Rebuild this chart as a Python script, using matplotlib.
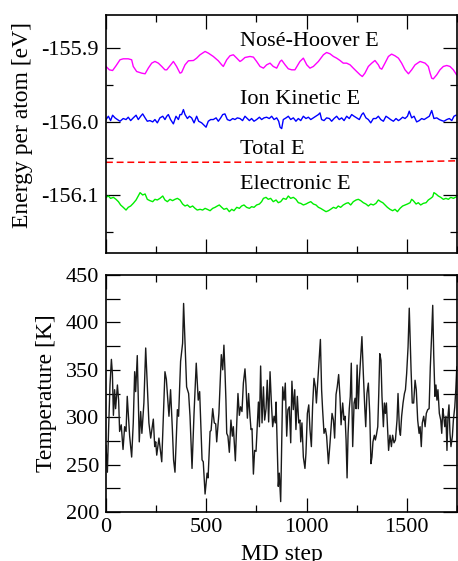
import matplotlib
matplotlib.use("Agg")
import matplotlib.pyplot as plt
from matplotlib.ticker import MultipleLocator

plt.rcParams['font.family'] = ['Liberation Serif', 'DejaVu Serif']
plt.rcParams['axes.unicode_minus'] = False

# Energias por atomo [eV]
nh_steps = [0, 17, 33, 50, 70, 86, 111, 128, 136, 153, 178, 195, 211, 228, 244, 261, 278, 294,
            303, 319, 336, 352, 369, 377, 394, 411, 436, 452, 469, 494, 510, 535, 560, 577,
            585, 602, 618, 635, 652, 668, 676, 693, 718, 735, 751, 768, 785, 801, 818, 834,
            851, 868, 876, 893, 909, 926, 942, 967, 984, 1001, 1017, 1034, 1059, 1084, 1100,
            1117, 1134, 1150, 1167, 1183, 1200, 1217, 1233, 1250, 1267, 1278, 1291, 1308,
            1325, 1341, 1358, 1366, 1375, 1391, 1408, 1424, 1441, 1458, 1474, 1491, 1508,
            1524, 1541, 1566, 1591, 1607, 1616, 1624, 1632, 1649, 1665, 1682, 1699, 1715,
            1732, 1748]
nh_energy = [-155.9250, -155.9296, -155.9305, -155.9241, -155.9159, -155.9146, -155.9146,
             -155.9159, -155.9250, -155.9319, -155.9341, -155.9350, -155.9273, -155.9205,
             -155.9182, -155.9205, -155.9250, -155.9296, -155.9296, -155.9241, -155.9182,
             -155.9250, -155.9341, -155.9332, -155.9228, -155.9173, -155.9169, -155.9137,
             -155.9091, -155.9046, -155.9068, -155.9114, -155.9173, -155.9228, -155.9250,
             -155.9159, -155.9105, -155.9091, -155.9137, -155.9182, -155.9169, -155.9128,
             -155.9114, -155.9123, -155.9182, -155.9250, -155.9273, -155.9228, -155.9205,
             -155.9250, -155.9273, -155.9182, -155.9164, -155.9228, -155.9282, -155.9296,
             -155.9296, -155.9182, -155.9137, -155.9228, -155.9273, -155.9250, -155.9182,
             -155.9091, -155.9060, -155.9078, -155.9114, -155.9137, -155.9169, -155.9205,
             -155.9205, -155.9228, -155.9273, -155.9319, -155.9364, -155.9387, -155.9341,
             -155.9250, -155.9205, -155.9169, -155.9228, -155.9273, -155.9287, -155.9205,
             -155.9114, -155.9082, -155.9105, -155.9137, -155.9205, -155.9296, -155.9350,
             -155.9296, -155.9228, -155.9182, -155.9205, -155.9250, -155.9341, -155.9410,
             -155.9419, -155.9364, -155.9296, -155.9250, -155.9237, -155.9250, -155.9296,
             -155.9364]

ion_steps = [0, 12, 23, 33, 45, 57, 70, 86, 100, 111, 123, 136, 150, 161, 173, 183, 195, 206,
             219, 233, 244, 256, 269, 283, 294, 303, 311, 322, 336, 349, 361, 369, 377, 386,
             394, 406, 416, 427, 439, 452, 462, 477, 489, 499, 510, 522, 535, 549, 560, 572,
             582, 593, 605, 618, 632, 643, 655, 668, 681, 693, 701, 715, 726, 738, 751, 765,
             776, 788, 801, 814, 826, 838, 851, 861, 868, 876, 884, 898, 909, 921, 934, 947,
             959, 971, 984, 997, 1009, 1021, 1034, 1047, 1059, 1067, 1075, 1087, 1100, 1114,
             1125, 1137, 1150, 1163, 1175, 1187, 1200, 1213, 1225, 1237, 1250, 1263, 1275,
             1283, 1296, 1308, 1320, 1333, 1346, 1358, 1370, 1383, 1396, 1408, 1419, 1433,
             1446, 1458, 1466, 1479, 1491, 1503, 1512, 1524, 1536, 1549, 1562, 1574, 1586,
             1599, 1612, 1624, 1635, 1649, 1662, 1674, 1685, 1699, 1712, 1724, 1735, 1745]
ion_energy = [-155.9973, -155.9928, -155.9987, -155.9914, -155.9950, -155.9973, -155.9996,
              -155.9959, -155.9973, -155.9941, -155.9987, -155.9950, -155.9914, -155.9973,
              -155.9928, -155.9896, -155.9950, -155.9996, -155.9987, -156.0005, -155.9973,
              -156.0018, -155.9950, -155.9928, -155.9973, -155.9928, -155.9905, -155.9973,
              -156.0032, -155.9928, -155.9973, -155.9905, -155.9905, -155.9837, -155.9905,
              -155.9959, -155.9928, -155.9950, -156.0018, -155.9928, -155.9996, -156.0018,
              -156.0050, -156.0077, -155.9996, -155.9973, -155.9973, -155.9950, -155.9996,
              -155.9950, -155.9905, -155.9896, -155.9973, -155.9987, -155.9959, -155.9973,
              -155.9950, -155.9959, -155.9987, -155.9928, -155.9950, -155.9987, -155.9959,
              -155.9996, -155.9973, -155.9941, -155.9973, -155.9950, -155.9941, -155.9959,
              -155.9928, -155.9973, -155.9950, -155.9996, -156.0077, -156.0096, -155.9973,
              -155.9950, -155.9928, -155.9973, -155.9950, -155.9996, -155.9959, -155.9987,
              -155.9928, -155.9959, -155.9941, -155.9973, -155.9950, -155.9928, -155.9905,
              -155.9882, -155.9973, -155.9987, -155.9950, -155.9959, -155.9996, -155.9959,
              -155.9928, -155.9973, -155.9950, -155.9987, -155.9928, -155.9959, -155.9905,
              -155.9928, -155.9950, -155.9973, -155.9905, -155.9882, -155.9950, -155.9973,
              -156.0018, -155.9959, -155.9959, -155.9928, -155.9973, -155.9996, -155.9928,
              -155.9950, -155.9973, -155.9996, -155.9959, -155.9987, -155.9973, -155.9941,
              -155.9959, -155.9928, -155.9859, -155.9950, -155.9928, -156.0005, -155.9987,
              -155.9959, -155.9973, -155.9950, -155.9928, -155.9850, -155.9959, -155.9950,
              -155.9973, -155.9987, -155.9996, -155.9973, -155.9959, -155.9987, -155.9928,
              -155.9914]

total_steps = [0, 1400, 1750]
total_energy = [-156.0555, -156.0552, -156.0535]

elec_steps = [0, 12, 23, 37, 50, 62, 73, 86, 100, 111, 123, 136, 150, 161, 170, 183, 195, 206,
              219, 233, 244, 256, 269, 283, 294, 306, 319, 332, 344, 356, 369, 382, 394, 406,
              419, 432, 444, 455, 469, 482, 494, 505, 519, 532, 544, 555, 565, 577, 588, 602,
              615, 627, 638, 652, 665, 676, 688, 701, 715, 726, 738, 751, 765, 776, 785, 798,
              809, 821, 834, 848, 859, 871, 884, 898, 909, 921, 934, 947, 959, 971, 984, 997,
              1009, 1021, 1034, 1047, 1059, 1070, 1084, 1097, 1109, 1120, 1134, 1147, 1158,
              1170, 1183, 1197, 1208, 1220, 1233, 1247, 1258, 1270, 1283, 1296, 1308, 1320,
              1333, 1346, 1358, 1370, 1380, 1391, 1403, 1416, 1429, 1441, 1453, 1466, 1479,
              1491, 1503, 1516, 1524, 1532, 1546, 1557, 1569, 1582, 1596, 1607, 1619, 1629,
              1635, 1645, 1657, 1669, 1682, 1695, 1707, 1719, 1732, 1748]
elec_energy = [-156.1032, -156.1014, -156.1046, -156.1032, -156.1059, -156.1091, -156.1136,
               -156.1168, -156.1205, -156.1168, -156.1150, -156.1114, -156.1068, -156.1014,
               -156.0968, -156.1000, -156.0986, -156.1059, -156.1077, -156.1091, -156.1059,
               -156.1068, -156.1046, -156.1014, -156.1068, -156.1091, -156.1059, -156.1077,
               -156.1059, -156.1046, -156.1068, -156.1123, -156.1150, -156.1136, -156.1168,
               -156.1150, -156.1182, -156.1205, -156.1195, -156.1205, -156.1182, -156.1195,
               -156.1214, -156.1182, -156.1168, -156.1150, -156.1136, -156.1168, -156.1195,
               -156.1182, -156.1227, -156.1195, -156.1214, -156.1168, -156.1182, -156.1150,
               -156.1136, -156.1168, -156.1182, -156.1159, -156.1168, -156.1136, -156.1123,
               -156.1091, -156.1046, -156.1032, -156.1059, -156.1046, -156.1091, -156.1068,
               -156.1105, -156.1091, -156.1046, -156.1059, -156.1014, -156.1046, -156.1032,
               -156.1059, -156.1105, -156.1114, -156.1136, -156.1123, -156.1105, -156.1091,
               -156.1123, -156.1136, -156.1168, -156.1182, -156.1205, -156.1227, -156.1214,
               -156.1195, -156.1168, -156.1182, -156.1150, -156.1168, -156.1136, -156.1114,
               -156.1105, -156.1136, -156.1091, -156.1068, -156.1059, -156.1077, -156.1105,
               -156.1123, -156.1150, -156.1123, -156.1136, -156.1114, -156.1068, -156.1091,
               -156.1105, -156.1136, -156.1168, -156.1195, -156.1214, -156.1195, -156.1227,
               -156.1182, -156.1150, -156.1136, -156.1123, -156.1105, -156.1059, -156.1077,
               -156.1123, -156.1105, -156.1136, -156.1114, -156.1105, -156.1068, -156.1046,
               -156.1023, -156.0968, -156.0986, -156.1014, -156.1032, -156.1059, -156.1046,
               -156.1059, -156.1032, -156.1046, -156.1023]

# Temperatura [K]
temp_steps = [0, 7, 13, 20, 27, 32, 37, 43, 48, 57, 63, 68, 76, 85, 93, 100, 106, 118, 128,
              136, 143, 148, 156, 166, 173, 179, 189, 198, 214, 223, 236, 243, 248, 253, 264,
              278, 286, 294, 301, 314, 322, 331, 337, 344, 356, 362, 372, 382, 387, 402, 412,
              419, 429, 439, 450, 460, 467, 479, 485, 494, 504, 509, 519, 524, 532, 540, 547,
              552, 563, 575, 582, 588, 593, 598, 602, 608, 615, 623, 630, 635, 645, 652, 658,
              665, 671, 678, 685, 693, 698, 705, 711, 718, 723, 728, 735, 741, 748, 755, 760,
              765, 771, 778, 785, 791, 798, 804, 811, 818, 824, 831, 838, 844, 848, 854, 859,
              864, 871, 876, 881, 888, 894, 901, 907, 914, 921, 927, 934, 941, 947, 954, 961,
              967, 971, 977, 984, 992, 997, 1004, 1011, 1017, 1024, 1030, 1037, 1044, 1049,
              1059, 1069, 1075, 1080, 1087, 1094, 1100, 1109, 1117, 1127, 1134, 1140, 1147,
              1153, 1160, 1167, 1172, 1180, 1187, 1192, 1197, 1202, 1207, 1213, 1218, 1223,
              1230, 1237, 1242, 1247, 1252, 1258, 1263, 1270, 1276, 1283, 1290, 1295, 1301,
              1308, 1315, 1321, 1326, 1331, 1338, 1343, 1348, 1355, 1360, 1365, 1371, 1376,
              1383, 1388, 1393, 1398, 1404, 1409, 1416, 1423, 1429, 1436, 1443, 1451, 1456,
              1463, 1468, 1474, 1481, 1488, 1493, 1499, 1506, 1512, 1521, 1527, 1534, 1541,
              1547, 1554, 1561, 1566, 1572, 1577, 1584, 1591, 1597, 1604, 1611, 1617, 1624,
              1629, 1634, 1640, 1645, 1650, 1655, 1662, 1669, 1674, 1679, 1684, 1689, 1695,
              1700, 1705, 1710, 1715, 1720, 1727, 1732, 1739, 1744, 1749]
temperature = [270, 242, 287, 334, 361, 346, 302, 329, 309, 334, 318, 285, 292, 266, 290, 285,
               322, 280, 258, 294, 348, 327, 365, 274, 306, 283, 315, 373, 294, 278, 298, 269,
               274, 260, 278, 253, 301, 348, 340, 301, 329, 287, 255, 242, 308, 301, 359, 378,
               420, 332, 325, 301, 246, 304, 357, 318, 327, 255, 253, 219, 241, 236, 285, 286,
               309, 294, 293, 274, 304, 366, 350, 376, 350, 318, 283, 280, 263, 297, 280, 290,
               254, 294, 325, 302, 311, 306, 336, 351, 334, 299, 325, 301, 287, 288, 240, 265,
               264, 294, 316, 290, 354, 294, 332, 297, 309, 339, 295, 348, 318, 290, 301, 294,
               316, 265, 227, 241, 211, 273, 332, 318, 336, 280, 308, 311, 273, 338, 308, 329,
               287, 322, 294, 297, 274, 294, 258, 246, 262, 304, 313, 287, 269, 311, 341, 332,
               315, 348, 382, 329, 308, 283, 288, 280, 251, 273, 304, 297, 278, 324, 332, 345,
               320, 292, 315, 297, 301, 276, 236, 283, 309, 322, 357, 269, 315, 320, 309, 355,
               309, 339, 364, 385, 346, 311, 290, 325, 336, 304, 251, 258, 274, 281, 276, 281,
               290, 325, 367, 360, 322, 290, 315, 304, 315, 287, 265, 281, 269, 281, 273, 276,
               297, 325, 287, 281, 301, 315, 325, 329, 346, 374, 415, 350, 315, 315, 339, 329,
               297, 283, 290, 269, 294, 301, 290, 304, 308, 309, 353, 389, 418, 366, 322, 334,
               318, 329, 304, 297, 283, 309, 301, 290, 301, 265, 301, 313, 283, 269, 280, 297,
               311, 329, 353]

fig = plt.figure(figsize=(4.58, 5.61), dpi=100)
ax1 = fig.add_axes([0.2314, 0.549, 0.7664, 0.4242])
ax2 = fig.add_axes([0.2314, 0.0873, 0.7664, 0.4225])

ax1.plot(nh_steps, nh_energy, color='#ff00ff', lw=1.0)
ax1.plot(ion_steps, ion_energy, color='#0000ff', lw=1.0)
ax1.plot(total_steps, total_energy, color='#ff0000', lw=1.1, dashes=(4.5, 2.5))
ax1.plot(elec_steps, elec_energy, color='#00ee00', lw=1.0)

ax1.text(670, -155.8914, 'Nosé-Hoover E', fontsize=16, ha='left', va='center')
ax1.text(670, -155.9705, 'Ion Kinetic E', fontsize=16, ha='left', va='center')
ax1.text(670, -156.0387, 'Total E', fontsize=16, ha='left', va='center')
ax1.text(670, -156.0864, 'Electronic E', fontsize=16, ha='left', va='center')

ax1.set_xlim(0, 1750)
ax1.set_ylim(-156.179, -155.855)
ax1.set_yticks([-155.9, -156.0, -156.1])
ax1.set_yticklabels(['-155.9', '-156.0', '-156.1'])
ax1.yaxis.set_minor_locator(MultipleLocator(0.05))
ax1.xaxis.set_major_locator(MultipleLocator(500))
ax1.xaxis.set_minor_locator(MultipleLocator(250))
ax1.tick_params(labelbottom=False)
ax1.set_ylabel('Energy per atom [eV]', fontsize=17)
ax1.yaxis.set_label_coords(-0.208, 0.54)

ax2.plot(temp_steps, temperature, color='#1a1a1a', lw=1.0)
ax2.set_xlim(0, 1750)
ax2.set_ylim(200, 450)
ax2.xaxis.set_major_locator(MultipleLocator(500))
ax2.xaxis.set_minor_locator(MultipleLocator(250))
ax2.yaxis.set_major_locator(MultipleLocator(50))
ax2.yaxis.set_minor_locator(MultipleLocator(25))
ax2.set_xlabel('MD step', fontsize=17)
ax2.set_ylabel('Temperature [K]', fontsize=17)
ax2.xaxis.set_label_coords(0.5, -0.135)
ax2.yaxis.set_label_coords(-0.14, 0.5)

for ax in (ax1, ax2):
    for s in ax.spines.values():
        s.set_linewidth(1.2)
    ax.tick_params(which='both', direction='in', top=True, right=True, width=0.9,
                   labelsize=16, pad=5)
    ax.tick_params(which='major', length=10)
    ax.tick_params(which='minor', length=5)
ax2.tick_params(axis='y', which='minor', length=10)
ax2.tick_params(axis='x', which='major', pad=4)

fig.savefig('out.png', dpi=100)
